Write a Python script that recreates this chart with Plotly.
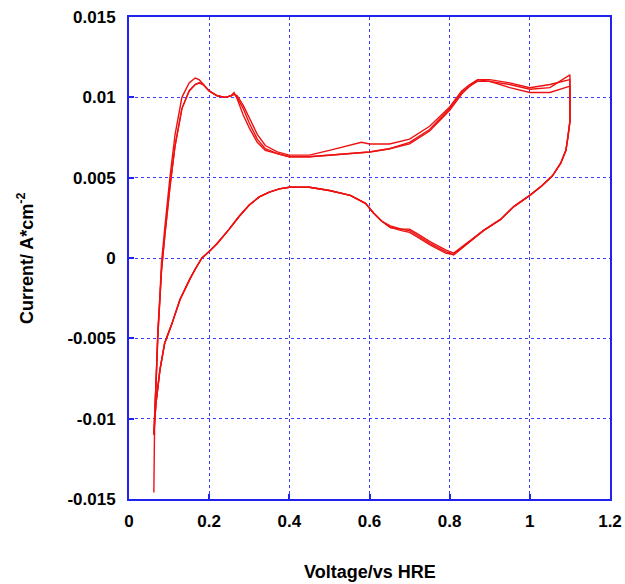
import plotly.graph_objects as go

# ---- data ----
# anodic sweeps (upper branch), three cycles
v_up = [0.062, 0.064, 0.069, 0.072, 0.077, 0.081, 0.089, 0.102, 0.115, 0.132,
        0.150, 0.165, 0.175, 0.185, 0.200, 0.220, 0.240, 0.255, 0.262, 0.270,
        0.285, 0.300, 0.320, 0.340, 0.370, 0.400, 0.450, 0.500, 0.550, 0.580,
        0.600, 0.650, 0.700, 0.750, 0.800, 0.830, 0.850, 0.870, 0.900, 0.950,
        1.000, 1.050, 1.100]
i_up1 = [-0.0146, -0.0101, -0.0066, -0.0045, -0.0024, -0.0003, 0.0018, 0.0050, 0.0077, 0.0100,
         0.0109, 0.0112, 0.0111, 0.0108, 0.0104, 0.0101, 0.0100, 0.0101, 0.0103, 0.0099,
         0.0089, 0.0081, 0.0072, 0.0067, 0.0065, 0.0063, 0.0063, 0.0064, 0.0065, 0.0066,
         0.0066, 0.0068, 0.0071, 0.0079, 0.0092, 0.0102, 0.0107, 0.0111, 0.0110, 0.0108,
         0.0105, 0.0106, 0.0114]
i_up2 = [-0.0110, -0.0100, -0.0068, -0.0048, -0.0028, -0.0008, 0.0013, 0.0044, 0.0070, 0.0093,
         0.0104, 0.0108, 0.0109, 0.0108, 0.0104, 0.0101, 0.0100, 0.0101, 0.0102, 0.0101,
         0.0095, 0.0087, 0.0077, 0.0070, 0.0066, 0.0064, 0.0064, 0.0067, 0.0070, 0.0072,
         0.0071, 0.0071, 0.0074, 0.0082, 0.0094, 0.0104, 0.0108, 0.0111, 0.0111, 0.0109,
         0.0106, 0.0108, 0.0111]
i_up3 = [-0.0110, -0.0100, -0.0068, -0.0048, -0.0028, -0.0008, 0.0013, 0.0044, 0.0070, 0.0093,
         0.0104, 0.0108, 0.0109, 0.0108, 0.0104, 0.0101, 0.0100, 0.0101, 0.0102, 0.0100,
         0.0093, 0.0084, 0.0074, 0.0068, 0.0065, 0.0063, 0.0063, 0.0064, 0.0065, 0.0066,
         0.0066, 0.0068, 0.0072, 0.0080, 0.0093, 0.0103, 0.0107, 0.0110, 0.0110, 0.0106,
         0.0103, 0.0103, 0.0107]

# cathodic sweeps (lower branch)
v_dn = [1.100, 1.100, 1.095, 1.090, 1.077, 1.056, 1.030, 1.000, 0.960, 0.927,
        0.884, 0.840, 0.810, 0.790, 0.752, 0.720, 0.700, 0.680, 0.652, 0.630,
        0.610, 0.590, 0.569, 0.552, 0.500, 0.450, 0.400, 0.375, 0.350, 0.325,
        0.300, 0.275, 0.250, 0.220, 0.200, 0.182, 0.165, 0.152, 0.127, 0.107,
        0.089, 0.077, 0.067, 0.062, 0.062]
i_dn1 = [0.0114, 0.0085, 0.0075, 0.0067, 0.0059, 0.0051, 0.0045, 0.0039, 0.0032, 0.0024,
         0.0017, 0.0008, 0.0002, 0.0003, 0.0008, 0.0013, 0.0016, 0.0017, 0.0019, 0.0023,
         0.0028, 0.0034, 0.0037, 0.0039, 0.0042, 0.0044, 0.0044, 0.0043, 0.0041, 0.0038,
         0.0033, 0.0026, 0.0018, 0.0009, 0.0004, 0.0000, -0.0007, -0.0013, -0.0026, -0.0041,
         -0.0053, -0.0070, -0.0091, -0.0108, -0.0110]
i_dn2 = [0.0111, 0.0085, 0.0075, 0.0067, 0.0059, 0.0051, 0.0045, 0.0039, 0.0032, 0.0024,
         0.0017, 0.0009, 0.0003, 0.0005, 0.0010, 0.0015, 0.0018, 0.0018, 0.0020, 0.0023,
         0.0028, 0.0034, 0.0037, 0.0039, 0.0042, 0.0044, 0.0044, 0.0043, 0.0041, 0.0038,
         0.0033, 0.0026, 0.0018, 0.0009, 0.0004, 0.0000, -0.0007, -0.0013, -0.0026, -0.0041,
         -0.0053, -0.0070, -0.0091, -0.0108, -0.0110]
i_dn3 = [0.0107, 0.0085, 0.0075, 0.0067, 0.0059, 0.0051, 0.0045, 0.0039, 0.0032, 0.0024,
         0.0017, 0.0008, 0.0002, 0.0004, 0.0009, 0.0014, 0.0017, 0.0018, 0.0019, 0.0023,
         0.0028, 0.0034, 0.0037, 0.0039, 0.0042, 0.0044, 0.0044, 0.0043, 0.0041, 0.0038,
         0.0033, 0.0026, 0.0018, 0.0009, 0.0004, 0.0000, -0.0007, -0.0013, -0.0026, -0.0041,
         -0.0053, -0.0070, -0.0091, -0.0108, -0.0110]

x_ticks = [0, 0.2, 0.4, 0.6, 0.8, 1, 1.2]
x_labels = ["0", "0.2", "0.4", "0.6", "0.8", "1", "1.2"]
y_ticks = [-0.015, -0.01, -0.005, 0, 0.005, 0.01, 0.015]
y_labels = ["-0.015", "-0.01", "-0.005", "0", "0.005", "0.01", "0.015"]

RED = "#ee1111"
BLUE = "#2222ee"
FONT = "Liberation Sans, Arial, sans-serif"

fig = go.Figure()
for iu, idn in [(i_up1, i_dn1), (i_up2, i_dn2), (i_up3, i_dn3)]:
    fig.add_trace(go.Scatter(x=v_up + v_dn, y=iu + idn, mode="lines",
                             line=dict(color=RED, width=1.4), showlegend=False))

axis_common = dict(
    showline=True, linecolor=BLUE, linewidth=2, mirror=True,
    ticks="inside", ticklen=5, tickcolor=BLUE, tickwidth=2,
    showgrid=True, gridcolor="#3d3dff", griddash="dot", gridwidth=1,
    zeroline=False, automargin=False,
    tickfont=dict(family=FONT, size=17, color="black", weight="bold"),
)

fig.update_xaxes(range=[0, 1.2], tickvals=x_ticks, ticktext=x_labels,
                 ticklabelstandoff=6, **axis_common)
fig.update_yaxes(range=[-0.015, 0.015], tickvals=y_ticks, ticktext=y_labels,
                 ticklabelstandoff=8, **axis_common)

fig.update_layout(
    width=625, height=584,
    margin=dict(l=129, r=15, t=17, b=85),
    plot_bgcolor="white", paper_bgcolor="white",
    annotations=[
        dict(text="Voltage/vs HRE", xref="paper", yref="paper", x=0.5, y=0,
             yshift=-73, showarrow=False, xanchor="center", yanchor="middle",
             font=dict(family=FONT, size=18, color="black", weight="bold")),
        dict(text="Current/ A*cm<sup>-2</sup>", xref="paper", yref="paper", x=0, y=0.5,
             xshift=-104, showarrow=False, textangle=-90, xanchor="center", yanchor="middle",
             font=dict(family=FONT, size=18, color="black", weight="bold")),
    ],
)

fig.write_html("out.html")
